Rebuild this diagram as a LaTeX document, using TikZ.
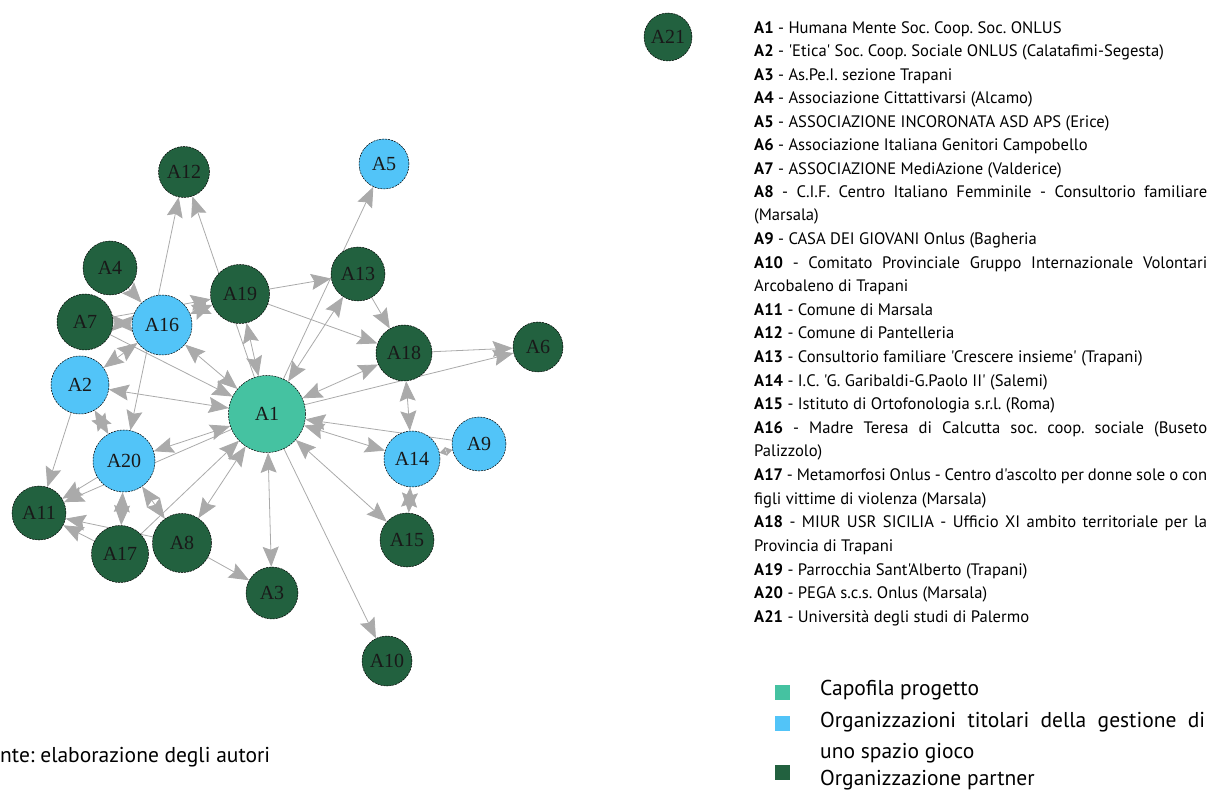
\documentclass[tikz,border=0pt]{standalone}
\usepackage{fontspec}
\setmainfont{Liberation Serif}
\newfontfamily\legfont{PT Sans}
\usetikzlibrary{arrows.meta,backgrounds}
\definecolor{dg}{HTML}{22613F}
\definecolor{lb}{HTML}{52C4F8}
\definecolor{tl}{HTML}{45C2A1}
\definecolor{eg}{HTML}{AAAAAA}
\frenchspacing
\begin{document}
\begin{tikzpicture}[x=1pt,y=-1pt,
  vtx/.style={circle,draw=black,line width=0.5pt,dash pattern=on 2pt off 1pt,inner sep=0pt,font=\fontsize{20}{20}\selectfont,text=black!90},
  pg/.style={vtx,fill=dg},
  sg/.style={vtx,fill=lb},
  cp/.style={vtx,fill=tl},
  ed/.style={draw=eg,line width=0.8pt,-{Stealth[length=20pt,width=16pt,inset=3pt]}},
  bi/.style={draw=eg,line width=0.8pt,{Stealth[length=20pt,width=16pt,inset=3pt]}-{Stealth[length=20pt,width=16pt,inset=3pt]}},
  sm/.style={draw=eg,line width=0.8pt,{Stealth[length=7pt,width=9pt,inset=1pt]}-{Stealth[length=7pt,width=9pt,inset=1pt]}},
  leg/.style={anchor=base west,inner sep=0pt,font=\legfont\fontsize{16.6}{16.6}\selectfont},
  legb/.style={anchor=base west,inner sep=0pt,font=\legfont\fontsize{21.5}{21.5}\selectfont},
  sq/.style={inner sep=0pt,minimum size=15pt},
]
\useasboundingbox (0,0) rectangle (1211,791);

% nodes
\node[cp,minimum size=77pt] (A1) at (267,414) {A1};
\node[sg,minimum size=58pt] (A2) at (80,385) {A2};
\node[pg,minimum size=52pt] (A3) at (272,593) {A3};
\node[pg,minimum size=54pt] (A4) at (110,268) {A4};
\node[sg,minimum size=50pt] (A5) at (384,164) {A5};
\node[pg,minimum size=50pt] (A6) at (538,347) {A6};
\node[pg,minimum size=56pt] (A7) at (85,322) {A7};
\node[pg,minimum size=59pt] (A8) at (182,543) {A8};
\node[sg,minimum size=54pt] (A9) at (479,444) {A9};
\node[pg,minimum size=50pt] (A10) at (387,661) {A10};
\node[pg,minimum size=54pt] (A11) at (39,513) {A11};
\node[pg,minimum size=51pt] (A12) at (184,172) {A12};
\node[pg,minimum size=54pt] (A13) at (358,274) {A13};
\node[sg,minimum size=56pt] (A14) at (412,459) {A14};
\node[pg,minimum size=54pt] (A15) at (407,540) {A15};
\node[sg,minimum size=60pt] (A16) at (162,325) {A16};
\node[pg,minimum size=57pt] (A17) at (120,554) {A17};
\node[pg,minimum size=56pt] (A18) at (404,353) {A18};
\node[pg,minimum size=59pt] (A19) at (240,294) {A19};
\node[sg,minimum size=62pt] (A20) at (124,461) {A20};
\node[pg,minimum size=48pt] (A21) at (668,37) {A21};

% edges
\begin{pgfonlayer}{background}
\draw[ed] (A1) -- (A5);
\draw[bi] (A1) -- (A13);
\draw[ed] (A19) -- (A13);
\draw[ed] (A19) -- (A18);
\draw[ed] (A13) -- (A18);
\draw[ed] (A18) -- (A6);
\draw[ed] (A1) -- (A6);
\draw[bi] (A1) -- (A18);
\draw[bi] (A18) -- (A14);
\draw[ed] (A9) -- (A1);
\draw[bi] (A1) -- (A14);
\draw[sm] (A14) -- (A9);
\draw[bi] (A14) -- (A15);
\draw[bi] (A1) -- (A15);
\draw[ed] (A1) -- (A10);
\draw[bi] (A1) -- (A3);
\draw[ed] (A8) -- (A3);
\draw[bi] (A8) -- (A1);
\draw[ed] (A17) -- (A1);
\draw[bi] (A20) -- (A17);
\draw[bi] (A20) -- (A8);
\draw[ed] (A17) -- (A11);
\draw[ed] (A8) -- (A11);
\draw[ed] (A20) -- (A11);
\draw[ed] (A1) -- (A11);
\draw[bi] (A20) -- (A1);
\draw[ed] (A2) -- (A11);
\draw[bi] (A2) -- (A20);
\draw[bi] (A2) -- (A1);
\draw[bi] (A20) -- (A12);
\draw[ed] (A7) -- (A1);
\draw[bi] (A16) -- (A1);
\draw[bi] (A16) -- (A2);
\draw[bi] (A7) -- (A16);
\draw[ed] (A7) -- (A19);
\draw[ed] (A4) -- (A16);
\draw[bi] (A16) -- (A19);
\draw[bi] (A1) -- (A19);
\draw[ed] (A1) -- (A12);
\end{pgfonlayer}

% legend list
\node[leg] (L1) at (754,34) {\textbf{A1} - Humana Mente Soc. Coop. Soc. ONLUS};
\node[leg] (L2) at (754,57) {\textbf{A2} - 'Etica' Soc. Coop. Sociale ONLUS (Calatafimi-Segesta)};
\node[leg] (L3) at (754,81) {\textbf{A3} - As.Pe.I. sezione Trapani};
\node[leg] (L4) at (754,104) {\textbf{A4} - Associazione Cittattivarsi (Alcamo)};
\node[leg] (L5) at (754,128) {\textbf{A5} - ASSOCIAZIONE INCORONATA ASD APS (Erice)};
\node[leg] (L6) at (754,151) {\textbf{A6} - Associazione Italiana Genitori Campobello};
\node[leg] (L7) at (754,175) {\textbf{A7} - ASSOCIAZIONE MediAzione (Valderice)};
\node[leg] (L8) at (754,198) {\makebox[453pt][s]{\textbf{A8} - C.I.F. Centro Italiano Femminile - Consultorio familiare}};
\node[leg] (L8b) at (754,221) {(Marsala)};
\node[leg] (L9) at (754,245) {\textbf{A9} - CASA DEI GIOVANI Onlus (Bagheria};
\node[leg] (L10) at (754,269) {\makebox[453pt][s]{\textbf{A10} - Comitato Provinciale Gruppo Internazionale Volontari}};
\node[leg] (L10b) at (754,292) {Arcobaleno di Trapani};
\node[leg] (L11) at (754,316) {\textbf{A11} - Comune di Marsala};
\node[leg] (L12) at (754,339) {\textbf{A12} - Comune di Pantelleria};
\node[leg] (L13) at (754,363) {\textbf{A13} - Consultorio familiare 'Crescere insieme' (Trapani)};
\node[leg] (L14) at (754,387) {\textbf{A14} - I.C. 'G. Garibaldi-G.Paolo II' (Salemi)};
\node[leg] (L15) at (754,410) {\textbf{A15} - Istituto di Ortofonologia s.r.l. (Roma)};
\node[leg] (L16) at (754,434) {\makebox[453pt][s]{\textbf{A16} - Madre Teresa di Calcutta soc. coop. sociale (Buseto}};
\node[leg] (L16b) at (754,457) {Palizzolo)};
\node[leg] (L17) at (754,481) {\makebox[453pt][s]{\textbf{A17} - Metamorfosi Onlus - Centro d'ascolto per donne sole o con}};
\node[leg] (L17b) at (754,504) {figli vittime di violenza (Marsala)};
\node[leg] (L18) at (754,528) {\makebox[453pt][s]{\textbf{A18} - MIUR USR SICILIA - Ufficio XI ambito territoriale per la}};
\node[leg] (L18b) at (754,551) {Provincia di Trapani};
\node[leg] (L19) at (754,575) {\textbf{A19} - Parrocchia Sant'Alberto (Trapani)};
\node[leg] (L20) at (754,598) {\textbf{A20} - PEGA s.c.s. Onlus (Marsala)};
\node[leg] (L21) at (754,622) {\textbf{A21} - Università degli studi di Palermo};

% colour legend
\node[sq,fill=tl] (S1) at (782,692) {};
\node[sq,fill=lb] (S2) at (782,723) {};
\node[sq,fill=dg] (S3) at (782,772) {};
\node[legb] (T1) at (820,695) {Capofila progetto};
\node[legb] (T2) at (820,727) {\makebox[385pt][s]{Organizzazioni titolari della gestione di}};
\node[legb] (T2b) at (820,758) {uno spazio gioco};
\node[legb] (T3) at (820,785) {Organizzazione partner};

% source
\node[legb] (src) at (0,762) {nte: elaborazione degli autori};
\end{tikzpicture}
\end{document}
